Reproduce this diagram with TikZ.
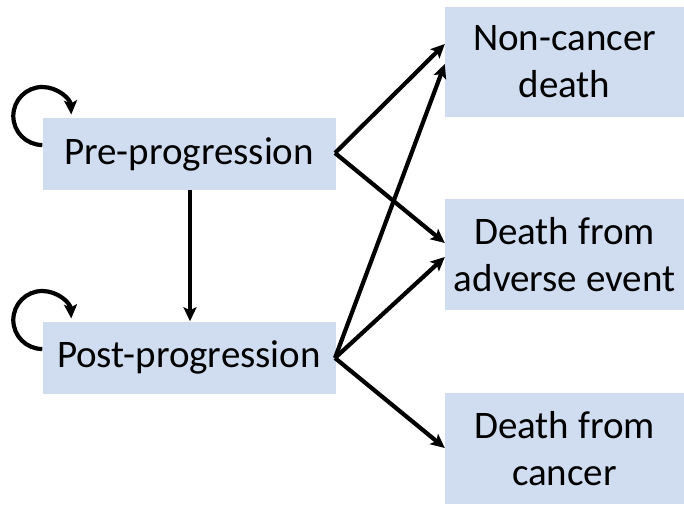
\documentclass[tikz,border=0pt]{standalone}
\usepackage{fontspec}
\setmainfont{Carlito}
\usetikzlibrary{arrows.meta}
\definecolor{boxfill}{RGB}{208,220,240}
\begin{document}
\begin{tikzpicture}[x=1pt,y=1pt,
  statebox/.style={fill=boxfill, draw=none, inner sep=0pt, align=center,
    font=\fontsize{39}{47}\selectfont},
  conn/.style={line width=4.2pt, -{Stealth[length=14pt,width=13pt,inset=3pt]}}]
\useasboundingbox (0,0) rectangle (684,504);
\node[statebox, minimum width=293pt, minimum height=72pt] (pre) at (189,350) {Pre-progression};
\node[statebox, minimum width=293pt, minimum height=72pt] (post) at (189,146.5) {Post-progression};
\node[statebox, minimum width=239pt, minimum height=110pt] (nc) at (564.5,442) {Non-cancer\\death};
\node[statebox, minimum width=239pt, minimum height=111pt] (ae) at (564.5,249.5) {Death from\\adverse event};
\node[statebox, minimum width=239pt, minimum height=111pt] (dc) at (564.5,55.5) {Death from\\cancer};
\coordinate (pr) at (335,351);
\coordinate (po) at (335,146);
\draw[conn] (pr) -- (nc.west |- 0,460);
\draw[conn] (pr) -- (ae.west |- 0,261);
\draw[conn] (po) -- (nc.west |- 0,440);
\draw[conn] (po) -- (ae.west |- 0,247);
\draw[conn] (po) -- (dc.west |- 0,56);
\draw[conn] (pre.south -| 190,0) -- (post.north -| 190,0);
\draw[conn] (pre.west |- 0,359) arc[start angle=-90, end angle=-357, radius=29];
\draw[conn] (post.west |- 0,155) arc[start angle=-90, end angle=-357, radius=29];
\end{tikzpicture}
\end{document}
